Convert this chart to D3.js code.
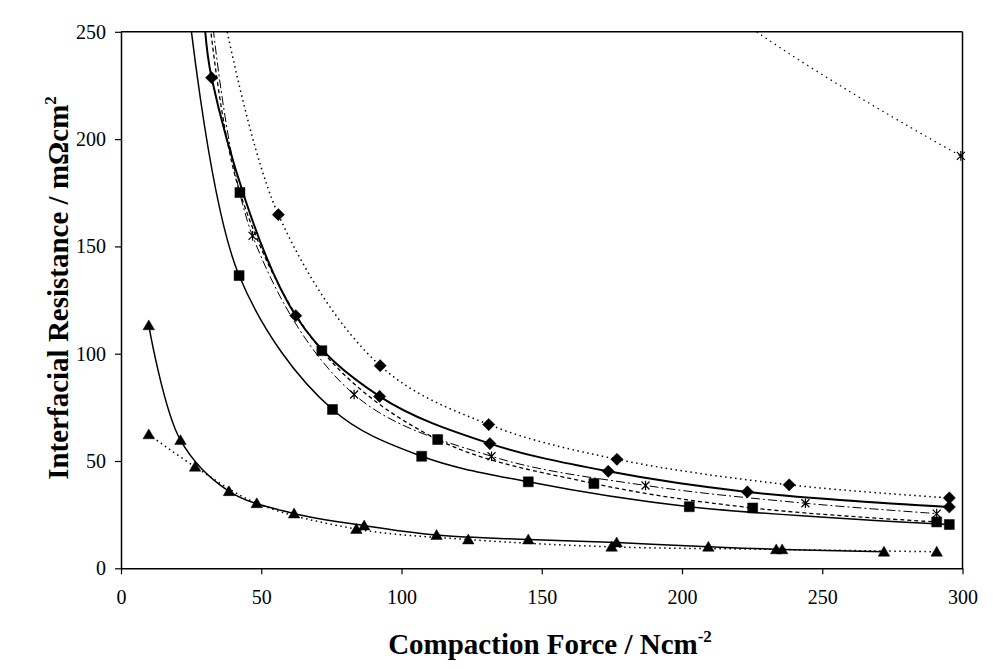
<!DOCTYPE html>
<html><head><meta charset="utf-8">
<script src="https://cdn.jsdelivr.net/npm/d3@7"></script>
<style>
body{margin:0;background:#fff;}
svg text{font-family:"Liberation Serif","Times New Roman",serif;fill:#000;}
</style>
</head><body><svg id="c" width="993" height="669"></svg>
<script>
// ---- data ----
const xTickValues = [0, 50, 100, 150, 200, 250, 300];
const yTickValues = [0, 50, 100, 150, 200, 250];
const diamondSolid   = [[29,280],[32.3,228.6],[62.3,117.7],[92.2,80.1],[131.5,58.1],[173.7,45.2],[223.3,35.6],[295.3,28.6]];
const diamondDotted  = [[34,275],[56.1,164.8],[92.4,94.4],[131.1,67.0],[176.8,50.8],[238.2,38.9],[295.3,32.8]];
const squareDashed   = [[30,275],[42.4,175.1],[71.6,101.4],[112.9,60.0],[168.6,39.5],[225.2,28.1],[290.8,21.6]];
const starDashDot    = [[31,275],[46.9,154.9],[83.1,81.0],[132.1,52.2],[187,38.6],[244,30.3],[290.8,25.5]];
const squareSolid    = [[23,275],[42.1,136.4],[75.4,74.0],[107.2,52.2],[145.2,40.3],[202.6,28.7],[295.3,20.4]];
const triangleSolid  = [[9.9,113.2],[21.2,59.7],[38.5,35.9],[61.7,25.5],[86.7,19.9],[112.5,15.5],[145.2,13.4],[176.7,12.0],[209.4,10.0],[235.7,8.8],[272,7.7]];
const triangleDotted = [[9.9,62.4],[26.4,47.3],[48.4,30.3],[83.9,18.3],[123.8,13.4],[174.9,10.0],[233.6,8.8],[290.8,7.7]];
const starDotted     = [[150,368],[200,277],[299.4,192.2]];
const xTitle = "Compaction Force / Ncm";
const xTitleSup = "-2";
const yTitle = "Interfacial Resistance / mΩcm";
const yTitleSup = "2";

// ---- marker shapes ----
const diamondSym = {draw(c, s){ const r = Math.sqrt(s)/2; c.moveTo(0,-r); c.lineTo(r,0); c.lineTo(0,r); c.lineTo(-r,0); c.closePath(); }};
const squareSym = {draw(c, s){ const r = Math.sqrt(s)/2; c.rect(-r,-r,2*r,2*r); }};
const triangleSym = {draw(c, s){ const r = Math.sqrt(s)/2; c.moveTo(0,-r); c.lineTo(r*1.05,r*0.8); c.lineTo(-r*1.05,r*0.8); c.closePath(); }};
const starSym = {draw(c, s){ const r = Math.sqrt(s)/2; c.moveTo(-r,-r); c.lineTo(r,r); c.moveTo(-r,r); c.lineTo(r,-r); c.moveTo(0,-r*1.2); c.lineTo(0,r*1.2); }};

const series = [
  {data: squareSolid,    dash: null,        w: 1.5, sym: squareSym,   size: 100, filled: true},
  {data: squareDashed,   dash: "4,3",       w: 1.3, sym: squareSym,   size: 100, filled: true},
  {data: starDashDot,    dash: "9,3,2,3",   w: 1.0, sym: starSym,     size: 64,  filled: false},
  {data: diamondDotted,  dash: "1.5,3.5",   w: 1.5, sym: diamondSym,  size: 150, filled: true},
  {data: diamondSolid,   dash: null,        w: 2.0, sym: diamondSym,  size: 150, filled: true},
  {data: triangleSolid,  dash: null,        w: 1.5, sym: triangleSym, size: 120, filled: true},
  {data: triangleDotted, dash: "1.5,3.5",   w: 1.5, sym: triangleSym, size: 120, filled: true},
  {data: starDotted,     dash: "1.5,4",     w: 1.2, sym: starSym,     size: 64,  filled: false}
];

const svg = d3.select("#c");
const x = d3.scaleLinear().domain([0, 300]).range([121, 962.5]);
const y = d3.scaleLinear().domain([0, 250]).range([568.3, 31.8]);

svg.append("rect").attr("width",993).attr("height",669).attr("fill","#fff");

svg.append("clipPath").attr("id","plot").append("rect")
  .attr("x", x(0)).attr("y", y(250)).attr("width", x(300)-x(0)).attr("height", y(0)-y(250));

// frame top & right
svg.append("line").attr("x1", x(0)).attr("x2", x(300)).attr("y1", y(250)).attr("y2", y(250)).attr("stroke","#000").attr("stroke-width",1.5);
svg.append("line").attr("x1", x(300)).attr("x2", x(300)).attr("y1", y(250)).attr("y2", y(0)).attr("stroke","#000").attr("stroke-width",1.5);

// axes
const gx = svg.append("g").attr("transform", `translate(0,${y(0)})`)
  .call(d3.axisBottom(x).tickValues(xTickValues).tickSize(6).tickSizeOuter(0).tickPadding(16));
const gy = svg.append("g").attr("transform", `translate(${x(0)},0)`)
  .call(d3.axisLeft(y).tickValues(yTickValues).tickSize(6).tickSizeOuter(0).tickPadding(9));
[gx, gy].forEach(g => {
  g.attr("font-family", null).attr("font-size", null);
  g.selectAll("path.domain").attr("stroke","#000").attr("stroke-width",1.5);
  g.selectAll(".tick line").attr("stroke","#000").attr("stroke-width",1.2);
  g.selectAll(".tick text").style("font-size","20px").attr("fill","#000");
});

// lines
const line = d3.line().x(d => x(d[0])).y(d => y(d[1])).curve(d3.curveCatmullRom.alpha(0.5));
const gl = svg.append("g").attr("clip-path","url(#plot)");
series.forEach(s => {
  gl.append("path").attr("d", line(s.data)).attr("fill","none").attr("stroke","#000")
    .attr("stroke-width", s.w).attr("stroke-dasharray", s.dash);
});
// markers
const gm = svg.append("g");
series.forEach(s => {
  const pts = s.data.filter(d => d[1] <= 250 && d[0] <= 300);
  gm.selectAll(null).data(pts).enter().append("path")
    .attr("transform", d => `translate(${x(d[0])},${y(d[1])})`)
    .attr("d", d3.symbol().type(s.sym).size(s.size)())
    .attr("fill", s.filled ? "#000" : "none")
    .attr("stroke", "#000").attr("stroke-width", s.filled ? 0.5 : 1.2);
});

// titles
const xt = svg.append("text").attr("x", 550).attr("y", 654).attr("text-anchor","middle")
  .style("font-size","29px").style("font-weight","bold");
xt.append("tspan").text(xTitle);
xt.append("tspan").attr("dy", -12).style("font-size","17px").text(xTitleSup);

const yt = svg.append("text").attr("transform","translate(68,288) rotate(-90)").attr("text-anchor","middle")
  .style("font-size","29px").style("font-weight","bold");
yt.append("tspan").text(yTitle);
yt.append("tspan").attr("dy", -12).style("font-size","17px").text(yTitleSup);
</script>
</body></html>
